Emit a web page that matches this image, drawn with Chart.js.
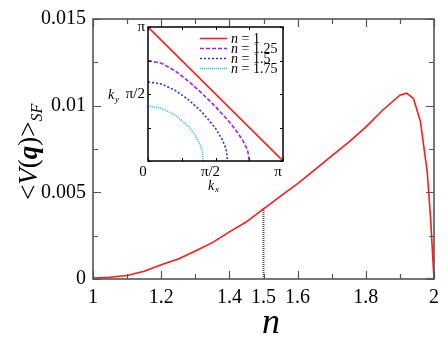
<!DOCTYPE html>
<html><head><meta charset="utf-8">
<script src="https://cdn.jsdelivr.net/npm/chart.js@4.4.1/dist/chart.umd.min.js"></script>
<style>
html,body{margin:0;padding:0;background:#fff;}
#wrap{position:relative;width:448px;height:342px;}
canvas{position:absolute;}
</style>
</head><body>
<div id="wrap">
<canvas id="main" width="448" height="342" style="left:0;top:0"></canvas>
<canvas id="inset" width="200" height="180" style="left:100px;top:15px"></canvas>
</div>
<script>
// ---- main panel data ----
const fillings = [1, 1.05, 1.1, 1.15, 1.2, 1.25, 1.3, 1.35, 1.4, 1.45, 1.5, 1.55, 1.6, 1.65, 1.7, 1.75, 1.8, 1.85, 1.9, 1.92, 1.94, 1.96, 1.98, 1.99, 2];
const vqValues = [0.00006, 0.0001, 0.0002, 0.00045, 0.00082, 0.00115, 0.00162, 0.0021, 0.00272, 0.0033, 0.00405, 0.00478, 0.0055, 0.0063, 0.0071, 0.0079, 0.00876, 0.00975, 0.0106, 0.01072, 0.0104, 0.0091, 0.0062, 0.0035, 0];
const markerN = [1.5, 1.5];
const markerV = [0, 0.0041];
const edgeN = [1.976, 1.997];
const edgeV = [0, 0];
const xTickLabels = [1, 1.2, 1.4, 1.5, 1.6, 1.8, 2];
const xMajorTicks = [1, 1.2, 1.4, 1.6, 1.8, 2];
const xMinorTicks = [1.1, 1.3, 1.5, 1.7, 1.9];
const yTickLabels = [0, 0.005, 0.01, 0.015];
const yMinorTicks = [0.0025, 0.0075, 0.0125];

// ---- inset data (k in units of pi) ----
const legendLabels = ['1', '1.25', '1.5', '1.75'];
const kx1 = [0, 1];
const ky1 = [1, 0];
const kx125 = [0, 0.1, 0.2, 0.3, 0.4, 0.5, 0.6, 0.65, 0.7, 0.73, 0.74, 0.75];
const ky125 = [0.75, 0.729, 0.673, 0.595, 0.505, 0.405, 0.294, 0.231, 0.157, 0.097, 0.068, 0];
const kx15 = [0, 0.1, 0.2, 0.3, 0.4, 0.5, 0.55, 0.57, 0.58, 0.59];
const ky15 = [0.59, 0.574, 0.528, 0.457, 0.365, 0.244, 0.159, 0.111, 0.079, 0];
const kx175 = [0, 0.1, 0.2, 0.3, 0.35, 0.38, 0.4, 0.41];
const ky175 = [0.41, 0.393, 0.344, 0.257, 0.192, 0.135, 0.078, 0];
const insetTicks = [0, 0.25, 0.5, 0.75, 1];
const insetTickText = {0: '0', 0.5: 'π/2', 1: 'π'};

const SERIF = "'Liberation Serif', serif";
const pts = (xs, ys) => xs.map((x, i) => ({x: x, y: ys[i]}));

function frameTicks(opts) {
  return {
    id: 'frameTicks',
    afterDatasetsDraw(chart) {
      const {ctx, chartArea: a, scales: {x, y}} = chart;
      ctx.save();
      ctx.strokeStyle = opts.color;
      ctx.lineWidth = opts.tickWidth;
      ctx.beginPath();
      const vx = (list, len) => list.forEach(v => {
        const p = Math.round(x.getPixelForValue(v)) + 0.5;
        ctx.moveTo(p, a.bottom); ctx.lineTo(p, a.bottom - len);
        ctx.moveTo(p, a.top); ctx.lineTo(p, a.top + len);
      });
      const vy = (list, len) => list.forEach(v => {
        const p = Math.round(y.getPixelForValue(v)) + 0.5;
        ctx.moveTo(a.left, p); ctx.lineTo(a.left + len, p);
        ctx.moveTo(a.right, p); ctx.lineTo(a.right - len, p);
      });
      vx(opts.xMajor, opts.majLen); vx(opts.xMinor, opts.minLen);
      vy(opts.yMajor, opts.majLen); vy(opts.yMinor, opts.minLen);
      ctx.stroke();
      ctx.lineWidth = opts.frameWidth;
      ctx.strokeRect(a.left, a.top, a.right - a.left, a.bottom - a.top);
      ctx.restore();
    }
  };
}

const mainTitles = {
  id: 'mainTitles',
  afterDraw(chart) {
    const ctx = chart.ctx;
    ctx.save();
    ctx.fillStyle = '#000';
    ctx.font = 'italic 36px ' + SERIF;
    ctx.textAlign = 'center';
    ctx.textBaseline = 'alphabetic';
    ctx.fillText('n', 271, 333);
    ctx.translate(37, 200);
    ctx.rotate(-Math.PI / 2);
    ctx.textAlign = 'left';
    const parts = [
      ['<', '27px ' + SERIF, 0],
      ['V', 'italic 27px ' + SERIF, 0],
      ['(', '27px ' + SERIF, 0],
      ['q', 'italic bold 27px ' + SERIF, 0],
      [')', '27px ' + SERIF, 0],
      ['>', '27px ' + SERIF, 0],
      ['SF', 'italic 16px ' + SERIF, 5]
    ];
    let cx = 0;
    parts.forEach(([t, f, dy]) => {
      ctx.font = f;
      ctx.fillText(t, cx, dy);
      cx += ctx.measureText(t).width;
    });
    ctx.restore();
  }
};

const insetColors = ['#ff2020', '#a020f0', '#2a2aff', '#40c4cc'];
const insetDashes = [[], [4, 2], [2, 2], [1, 1]];

const insetExtras = {
  id: 'insetExtras',
  afterDraw(chart) {
    const ctx = chart.ctx;
    ctx.save();
    ctx.fillStyle = '#000';
    ctx.textBaseline = 'alphabetic';
    ctx.font = 'italic 14px ' + SERIF;
    ctx.fillText('k', 8, 84);
    ctx.font = 'italic 9px ' + SERIF;
    ctx.fillText('y', 15, 87);
    ctx.font = 'italic 14px ' + SERIF;
    ctx.fillText('k', 108, 175);
    ctx.font = 'italic 9px ' + SERIF;
    ctx.fillText('x', 115, 177);
    legendLabels.forEach((lab, i) => {
      const yy = 23.5 + i * 10;
      ctx.strokeStyle = insetColors[i];
      ctx.lineWidth = 1.6;
      ctx.setLineDash(insetDashes[i]);
      ctx.beginPath(); ctx.moveTo(100, yy); ctx.lineTo(127, yy); ctx.stroke();
      ctx.setLineDash([]);
      ctx.font = 'italic 14px ' + SERIF;
      ctx.fillText('n', 131, yy + 4.5);
      const w = ctx.measureText('n').width;
      ctx.font = '14px ' + SERIF;
      ctx.fillText(' = ' + lab, 131 + w, yy + 4.5);
    });
    ctx.restore();
  }
};

function build() {
  Chart.defaults.font.family = SERIF;
  new Chart(document.getElementById('main'), {
    type: 'line',
    data: {
      datasets: [
        {data: pts(fillings, vqValues), borderColor: '#ff1a1a', borderWidth: 1.6, pointRadius: 0, tension: 0, fill: false},
        {data: pts(markerN, markerV), borderColor: '#555', borderWidth: 2, borderDash: [1, 1], pointRadius: 0, fill: false},
        {data: pts(edgeN, edgeV), borderColor: '#999', borderWidth: 2.5, pointRadius: 0, fill: false}
      ]
    },
    options: {
      responsive: false,
      animation: false,
      devicePixelRatio: 1,
      layout: {padding: {top: 10, right: 14, left: 0, bottom: 0}},
      plugins: {legend: {display: false}, tooltip: {enabled: false}},
      scales: {
        x: {
          type: 'linear', min: 1, max: 2,
          afterBuildTicks: s => { s.ticks = xTickLabels.map(v => ({value: v})); },
          afterFit: s => { s.height = 63; },
          grid: {display: false, drawTicks: false},
          border: {display: false},
          ticks: {autoSkip: false, maxRotation: 0, padding: 7, color: '#000', font: {family: SERIF, size: 20},
            callback: v => String(v)}
        },
        y: {
          type: 'linear', min: 0, max: 0.015,
          afterBuildTicks: s => { s.ticks = yTickLabels.map(v => ({value: v})); },
          afterFit: s => { s.width = 93; },
          grid: {display: false, drawTicks: false},
          border: {display: false},
          ticks: {autoSkip: false, padding: 7, color: '#000', font: {family: SERIF, size: 20},
            callback: v => String(v)}
        }
      }
    },
    plugins: [frameTicks({color: '#555', tickWidth: 1.2, frameWidth: 1.6, majLen: 8, minLen: 5,
      xMajor: xMajorTicks, xMinor: xMinorTicks, yMajor: yTickLabels, yMinor: yMinorTicks}), mainTitles]
  });

  const insetSeries = [[kx1, ky1], [kx125, ky125], [kx15, ky15], [kx175, ky175]];
  new Chart(document.getElementById('inset'), {
    type: 'line',
    data: {
      datasets: insetSeries.map(([xs, ys], i) => ({
        data: pts(xs, ys), borderColor: insetColors[i], borderWidth: 1.6, borderDash: insetDashes[i],
        pointRadius: 0, tension: 0, fill: false
      }))
    },
    options: {
      responsive: false,
      animation: false,
      devicePixelRatio: 1,
      layout: {padding: {top: 12, right: 17, left: 0, bottom: 0}},
      plugins: {legend: {display: false}, tooltip: {enabled: false}},
      scales: {
        x: {
          type: 'linear', min: 0, max: 1,
          afterBuildTicks: s => { s.ticks = [0, 0.5, 1].map(v => ({value: v})); },
          afterFit: s => { s.height = 34; },
          grid: {display: false, drawTicks: false},
          border: {display: false},
          ticks: {autoSkip: false, maxRotation: 0, padding: 2, labelOffset: -5, color: '#000', font: {family: SERIF, size: 15},
            callback: v => insetTickText[v]}
        },
        y: {
          type: 'linear', min: 0, max: 1,
          afterBuildTicks: s => { s.ticks = [0.5, 1].map(v => ({value: v})); },
          afterFit: s => { s.width = 48; },
          grid: {display: false, drawTicks: false},
          border: {display: false},
          ticks: {autoSkip: false, padding: 3, color: '#000', font: {family: SERIF, size: 15},
            callback: v => insetTickText[v]}
        }
      }
    },
    plugins: [frameTicks({color: '#000', tickWidth: 1, frameWidth: 1.5, majLen: 3, minLen: 3,
      xMajor: insetTicks, xMinor: [], yMajor: insetTicks, yMinor: []}), insetExtras]
  });
}

const fontLoads = ['20px', 'italic 20px', 'bold italic 20px'].map(s =>
  document.fonts ? document.fonts.load(s + " 'Liberation Serif'").catch(() => null) : Promise.resolve());
Promise.all(fontLoads).then(build, build);
</script>
</body></html>
